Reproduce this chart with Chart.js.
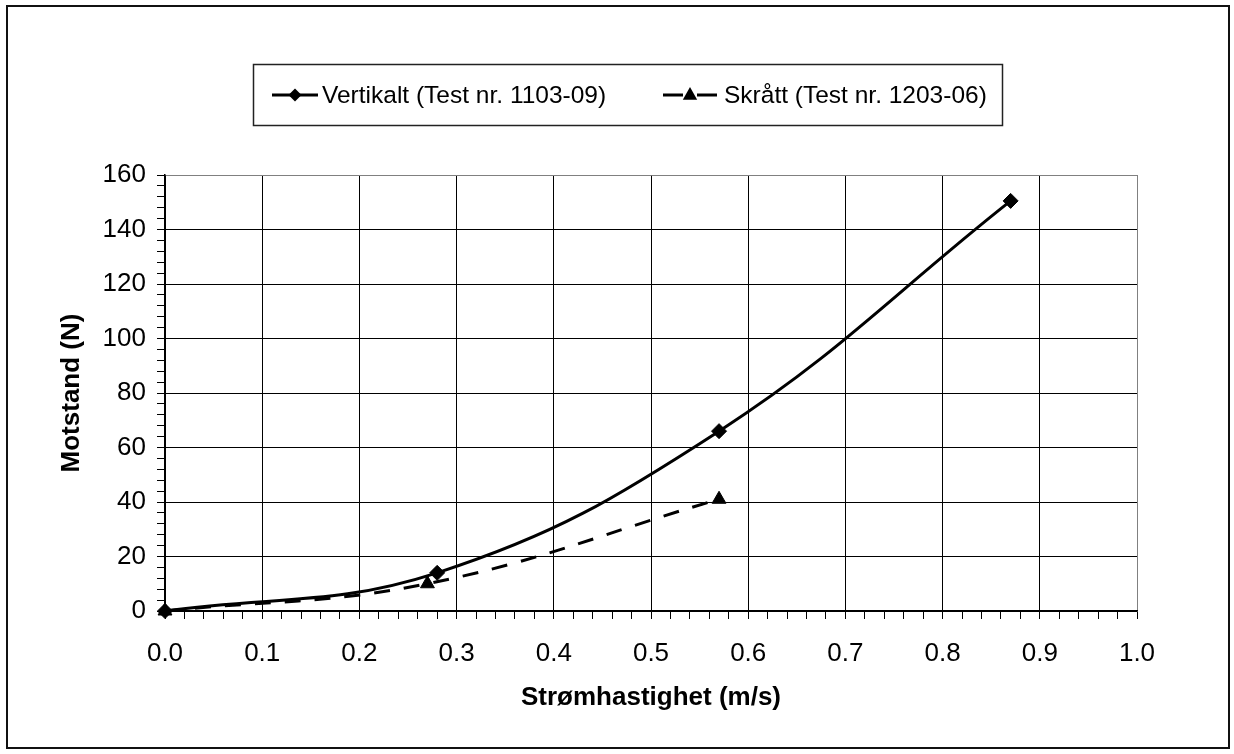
<!DOCTYPE html>
<html><head><meta charset="utf-8">
<script src="https://cdn.jsdelivr.net/npm/chart.js@4.4.0/dist/chart.umd.min.js"></script>
<style>html,body{margin:0;padding:0;background:#fff;} #c{display:block;}</style>
</head><body>
<canvas id="c" width="1234" height="754"></canvas>
<script>
// ---- data ----
const vertX = [0, 0.28, 0.57, 0.87];
const vertY = [0, 14, 66, 150.5];
const skraX = [0, 0.27, 0.57];
const skraY = [0, 10, 41];
const seriesNames = ['Vertikalt (Test nr. 1103-09)', 'Skrått (Test nr. 1203-06)'];
const xTitle = 'Strømhastighet (m/s)';
const yTitle = 'Motstand (N)';
const xTickLabels = ['0.0','0.1','0.2','0.3','0.4','0.5','0.6','0.7','0.8','0.9','1.0'];
const yTickLabels = ['0','20','40','60','80','100','120','140','160'];

const FONT = '"Liberation Sans", Arial, Helvetica, sans-serif';
Chart.defaults.font.family = FONT;
Chart.defaults.color = '#000';

function isMajorX(v){ return Math.abs(v*10 - Math.round(v*10)) < 1e-6; }
function isMajorY(v){ return Math.abs(v/20 - Math.round(v/20)) < 1e-6; }

const framePlugin = {
  id: 'frame',
  beforeDraw(chart) {
    const ctx = chart.ctx;
    ctx.save();
    ctx.fillStyle = '#fff';
    ctx.fillRect(0, 0, chart.width, chart.height);
    ctx.strokeStyle = '#111';
    ctx.lineWidth = 2;
    ctx.strokeRect(7, 6, 1222, 742);
    ctx.restore();
  }
};

function drawDiamond(ctx, x, y, r) {
  ctx.beginPath();
  ctx.moveTo(x, y - r); ctx.lineTo(x + r, y); ctx.lineTo(x, y + r); ctx.lineTo(x - r, y);
  ctx.closePath(); ctx.fill();
}
function drawTriangle(ctx, x, y, r) {
  ctx.beginPath();
  ctx.moveTo(x, y - r); ctx.lineTo(x + r * 0.9, y + r * 0.6); ctx.lineTo(x - r * 0.9, y + r * 0.6);
  ctx.closePath(); ctx.fill();
}

const legendPlugin = {
  id: 'boxLegend',
  afterDraw(chart) {
    const ctx = chart.ctx;
    ctx.save();
    ctx.strokeStyle = '#222';
    ctx.lineWidth = 1.5;
    ctx.strokeRect(253.5, 64.5, 749, 61);
    const cy = 95;
    ctx.strokeStyle = '#000'; ctx.fillStyle = '#000'; ctx.lineWidth = 3;
    // item 1
    ctx.beginPath(); ctx.moveTo(272, cy); ctx.lineTo(318, cy); ctx.stroke();
    drawDiamond(ctx, 295, cy, 6.5);
    // item 2 (dashed: dash, marker, dash)
    ctx.beginPath(); ctx.moveTo(663, cy); ctx.lineTo(683, cy); ctx.stroke();
    ctx.beginPath(); ctx.moveTo(697, cy); ctx.lineTo(717, cy); ctx.stroke();
    drawTriangle(ctx, 690, cy, 8);
    ctx.font = '24.5px ' + FONT;
    ctx.textBaseline = 'middle';
    ctx.textAlign = 'left';
    ctx.fillText(seriesNames[0], 322, cy + 1);
    ctx.fillText(seriesNames[1], 724, cy + 1);
    ctx.restore();
  }
};

new Chart(document.getElementById('c'), {
  type: 'line',
  data: {
    datasets: [
      {
        label: seriesNames[0],
        data: vertX.map((x, i) => ({x, y: vertY[i]})),
        borderColor: '#000', backgroundColor: '#000',
        borderWidth: 3, tension: 0.4, fill: false,
        pointStyle: 'rectRot', pointRadius: 7.5, pointBorderWidth: 1,
        clip: false
      },
      {
        label: seriesNames[1],
        data: skraX.map((x, i) => ({x, y: skraY[i]})),
        borderColor: '#000', backgroundColor: '#000',
        borderWidth: 3, tension: 0.4, fill: false, borderDash: [16, 14],
        pointStyle: 'triangle', pointRadius: 8, pointBorderWidth: 1,
        clip: false
      }
    ]
  },
  options: {
    responsive: false,
    animation: false,
    events: [],
    layout: { padding: { top: 175, left: 20, right: 97, bottom: 20 } },
    plugins: { legend: { display: false }, tooltip: { enabled: false } },
    scales: {
      x: {
        type: 'linear', min: 0, max: 1,
        afterFit(s) { s.height = 123; },
        ticks: {
          stepSize: 0.02, autoSkip: false, maxRotation: 0, maxTicksLimit: 200,
          padding: 19, font: { size: 26 }, color: '#000',
          callback(v) { return isMajorX(v) ? xTickLabels[Math.round(v * 10)] : ''; }
        },
        grid: {
          color(ctx) {
            const v = ctx.tick ? ctx.tick.value : 0;
            if (Math.abs(v - 1) < 1e-6) return '#808080';
            return isMajorX(v) ? '#000' : 'rgba(0,0,0,0)';
          },
          tickColor: '#000', tickLength: 8, lineWidth: 1
        },
        border: { color: '#000', width: 1.5 },
        title: { display: true, text: xTitle, font: { size: 26, weight: 'bold' }, padding: { top: 0, bottom: 21 }, color: '#000' }
      },
      y: {
        type: 'linear', min: 0, max: 160,
        afterFit(s) { s.width = 145; },
        ticks: {
          stepSize: 4, autoSkip: false, maxTicksLimit: 200,
          padding: 11, font: { size: 26 }, color: '#000',
          callback(v) { return isMajorY(v) ? yTickLabels[Math.round(v / 20)] : ''; }
        },
        grid: {
          color(ctx) {
            const v = ctx.tick ? ctx.tick.value : 0;
            if (Math.abs(v - 160) < 1e-6) return '#808080';
            return isMajorY(v) ? '#000' : 'rgba(0,0,0,0)';
          },
          tickColor: '#000', tickLength: 8, lineWidth: 1
        },
        border: { color: '#000', width: 1.5 },
        title: { display: true, text: yTitle, font: { size: 26, weight: 'bold' }, padding: { top: 36, bottom: 0 }, color: '#000' }
      }
    }
  },
  plugins: [framePlugin, legendPlugin]
});
</script>
</body></html>
